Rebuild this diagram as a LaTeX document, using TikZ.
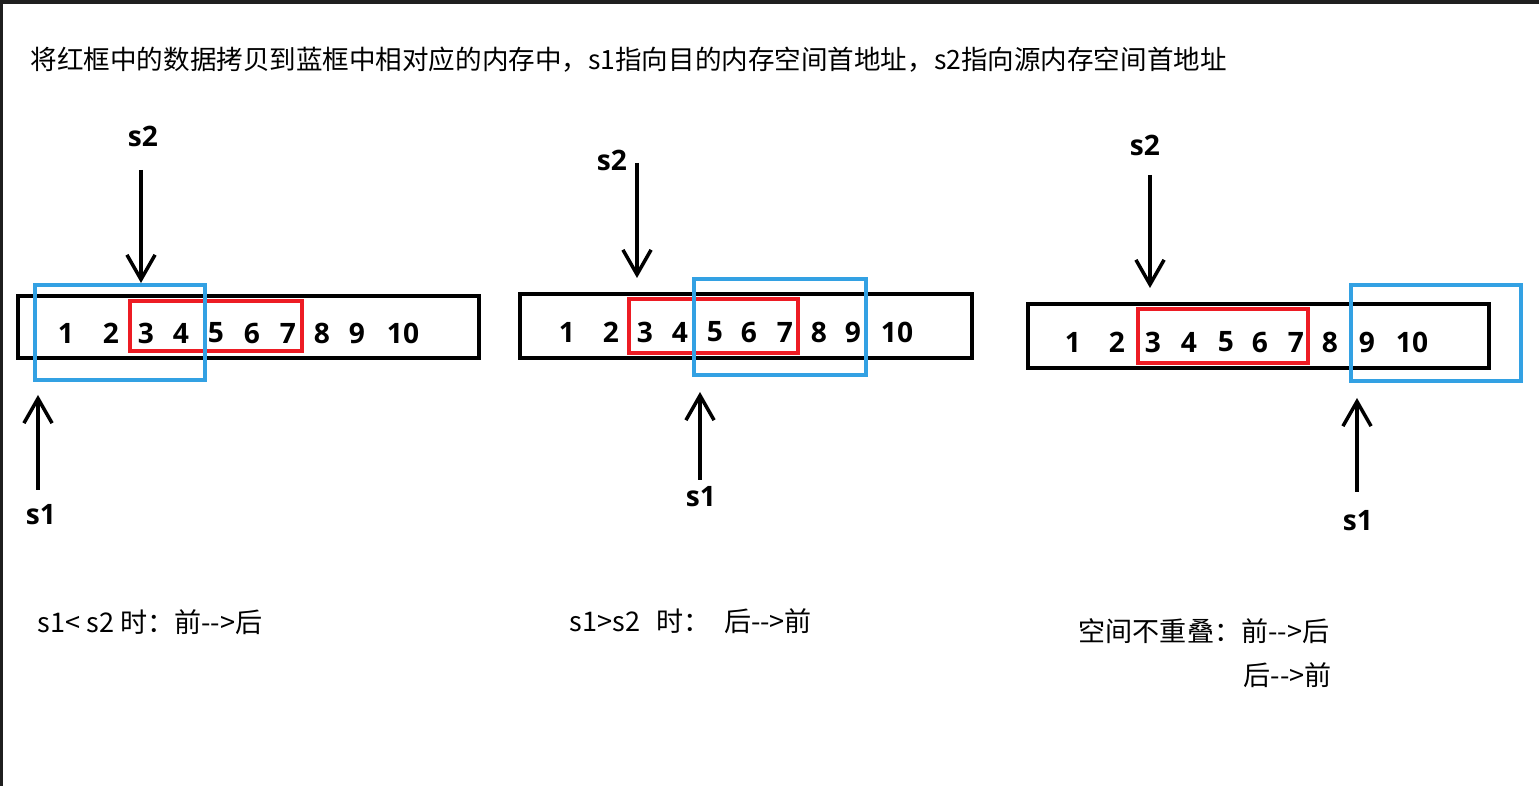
\documentclass[tikz,border=0pt]{standalone}
\usepackage{fontspec}
\setmainfont{Open Sans}
\newfontfamily\cjk{Noto Sans CJK SC}
\usetikzlibrary{arrows.meta}
\definecolor{boxred}{RGB}{237,28,36}
\definecolor{boxblue}{RGB}{51,161,227}
\definecolor{framegray}{RGB}{31,31,31}
\begin{document}
\begin{tikzpicture}[x=0.01cm,y=-0.01cm,
  mem/.style={line width=1.15pt},
  src/.style={draw=boxred,line width=0.9pt},
  dst/.style={draw=boxblue,line width=0.9pt},
  ptr/.style={-{Straight Barb[length=7pt,width=8pt]},line width=1pt},
  num/.style={font=\fontsize{8}{9}\selectfont\bfseries,inner sep=0pt},
  lbl/.style={font=\fontsize{8}{9}\selectfont\bfseries,inner sep=0pt},
  note/.style={font=\cjk\fontsize{7.7}{9}\selectfont,anchor=west,inner sep=0pt}]
\useasboundingbox (0,0) rectangle (1539,786);
\fill[white] (0,0) rectangle (1539,786);
\fill[framegray] (0,0) rectangle (1539,4);
\fill[framegray] (0,0) rectangle (3,786);

% title
\node[note,font=\cjk\fontsize{7.55}{9}\selectfont] (title) at (30,60)
  {将红框中的数据拷贝到蓝框中相对应的内存中，s1指向目的内存空间首地址，s2指向源内存空间首地址};

% s1 < s2
\draw[mem] (18,296) rectangle (479,358);
\foreach \n/\x in {1/66,2/111,3/146,4/181,5/216,6/252,7/288,8/322,9/357,10/403}
  \node[num] (a\n) at (\x,333) {\n};
\draw[src] (130,301) rectangle (302,351);
\draw[dst] (35,285) rectangle (205,380);
\node[lbl] (s2a) at (143,136) {s2};
\node[lbl] (s1a) at (41,515) {s1};
\coordinate (s2a-from) at (141,170);
\coordinate (s2a-to) at (141,283);
\coordinate (s1a-from) at (38,490);
\coordinate (s1a-to) at (38,395);
\draw[ptr] (s2a-from) -- (s2a-to);
\draw[ptr] (s1a-from) -- (s1a-to);
\node[note] (ruleA) at (37,622) {s1< s2 时：前-->后};

% s1 > s2
\draw[mem] (520,294) rectangle (972,358);
\foreach \n/\x in {1/567,2/611,3/645,4/680,5/715,6/749,7/785,8/819,9/853,10/897}
  \node[num] (b\n) at (\x,332) {\n};
\draw[src] (629,299) rectangle (798,353);
\draw[dst] (694,279) rectangle (866,375);
\node[lbl] (s2b) at (612,160) {s2};
\node[lbl] (s1b) at (701,497) {s1};
\coordinate (s2b-from) at (637,163);
\coordinate (s2b-to) at (637,278);
\coordinate (s1b-from) at (700,480);
\coordinate (s1b-to) at (700,392);
\draw[ptr] (s2b-from) -- (s2b-to);
\draw[ptr] (s1b-from) -- (s1b-to);
\node[note] (ruleB) at (569,621) {s1>s2\hspace{0.6em}时：\hspace{0.5em}后-->前};

% no overlap
\draw[mem] (1028,304) rectangle (1489,368);
\foreach \n/\x in {1/1073,2/1117,3/1153,4/1189,5/1226,6/1260,7/1296,8/1330,9/1367,10/1412}
  \node[num] (c\n) at (\x,342) {\n};
\draw[src] (1138,309) rectangle (1308,363);
\draw[dst] (1351,285) rectangle (1521,381);
\node[lbl] (s2c) at (1145,145) {s2};
\node[lbl] (s1c) at (1358,521) {s1};
\coordinate (s2c-from) at (1150,175);
\coordinate (s2c-to) at (1150,288);
\coordinate (s1c-from) at (1357,492);
\coordinate (s1c-to) at (1357,398);
\draw[ptr] (s2c-from) -- (s2c-to);
\draw[ptr] (s1c-from) -- (s1c-to);
\node[note] (ruleC) at (1078,631) {空间不重叠：前-->后};
\node[note] (ruleD) at (1243,675) {后-->前};
\end{tikzpicture}
\end{document}
